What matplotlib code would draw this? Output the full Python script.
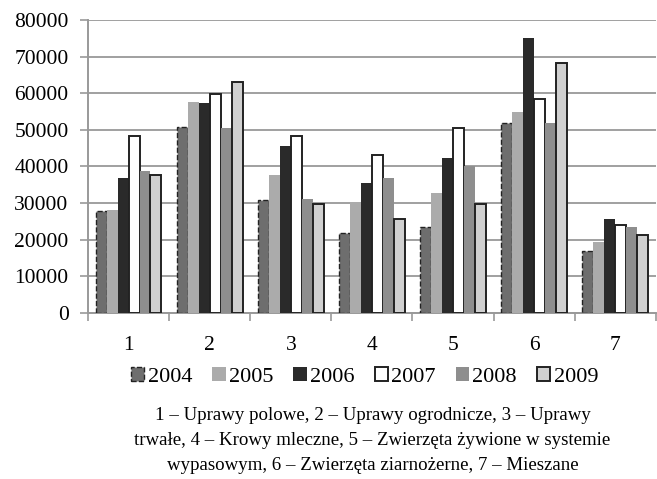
import matplotlib
matplotlib.use("Agg")
import matplotlib.pyplot as plt
import numpy as np

plt.rcParams['font.family'] = ['Liberation Serif', 'DejaVu Serif']

categories = ['1', '2', '3', '4', '5', '6', '7']
years = ['2004', '2005', '2006', '2007', '2008', '2009']
v2004 = [27800, 50900, 30800, 21800, 23500, 51800, 16900]
v2005 = [28200, 57600, 37800, 30300, 32800, 54800, 19400]
v2006 = [36800, 57300, 45500, 35500, 42200, 75000, 25600]
v2007 = [48300, 59800, 48400, 43100, 50600, 58500, 24000]
v2008 = [38800, 50600, 31000, 36800, 40100, 51900, 23500]
v2009 = [37700, 63000, 29800, 25500, 29800, 68400, 21200]
series = [v2004, v2005, v2006, v2007, v2008, v2009]

caption = ("1 – Uprawy polowe, 2 – Uprawy ogrodnicze, 3 – Uprawy\n"
           "trwałe, 4 – Krowy mleczne, 5 – Zwierzęta żywione w systemie\n"
           "wypasowym, 6 – Zwierzęta ziarnożerne, 7 – Mieszane")

faces = ['#6e6e6e', '#ababab', '#2a2a2a', '#ffffff', '#8e8e8e', '#d0d0d0']
edges = ['#222222', '#ababab', '#2a2a2a', '#222222', '#8e8e8e', '#222222']
lws = [1.0, 0, 0, 1.4, 0, 1.4]
styles = ['--', '-', '-', '-', '-', '-']

fig = plt.figure(figsize=(6.57, 4.79), dpi=100)
ax = fig.add_axes([0.134, 0.347, 0.864, 0.611])

x = np.arange(1, len(categories) + 1)
w = 0.135
for i, (vals, yr) in enumerate(zip(series, years)):
    ax.bar(x + (i - 2.5) * w, vals, w, color=faces[i], edgecolor=edges[i],
           linewidth=lws[i], linestyle=styles[i], label=yr, zorder=3)

ax.set_xlim(0.5, 7.5)
ax.set_ylim(0, 80000)
ax.set_yticks(np.arange(0, 80001, 10000))
ax.set_xticks(x)
ax.set_xticklabels(categories)
ax.set_xticks(np.arange(0.5, 7.6, 1), minor=True)
ax.tick_params(axis='x', which='major', length=0, labelsize=15.5, pad=17)
ax.tick_params(axis='x', which='minor', length=6, color='#999999', width=1.2)
ax.tick_params(axis='y', length=6, color='#999999', width=1.2, labelsize=15.5, pad=8)
ax.grid(axis='y', color='#a0a0a0', linewidth=1.4, zorder=0)
for s in ['top', 'right']:
    ax.spines[s].set_visible(False)
ax.spines['left'].set_color('#999999')
ax.spines['left'].set_linewidth(1.4)
ax.spines['bottom'].set_color('#999999')
ax.spines['bottom'].set_linewidth(1.4)

fig.legend(loc='center', bbox_to_anchor=(0.555, 0.213), ncol=6, frameon=False,
           fontsize=16, handlelength=0.6, handleheight=0.6, handletextpad=0.15,
           columnspacing=0.9)

fig.text(0.567, 0.081, caption, ha='center', va='center', fontsize=13.6,
         linespacing=1.6)

fig.savefig('out.png', dpi=100)
